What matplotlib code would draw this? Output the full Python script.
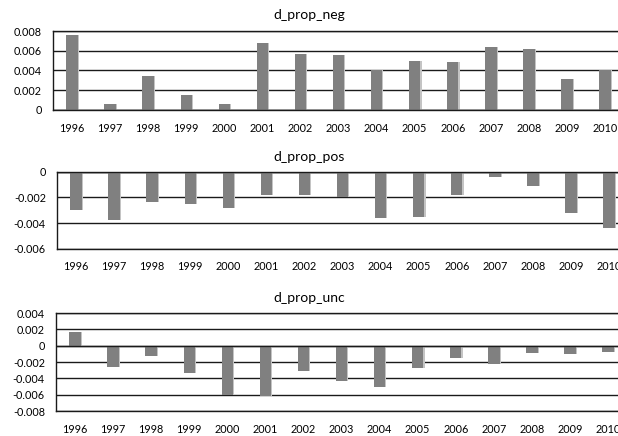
import matplotlib
matplotlib.use("Agg")
import matplotlib.pyplot as plt
import numpy as np

years = [str(y) for y in range(1996, 2011)]

d_prop_neg = [0.0076, 0.0006, 0.0034, 0.0015, 0.0006, 0.0068, 0.0057, 0.0056,
              0.0040, 0.0050, 0.0049, 0.0064, 0.0062, 0.0031, 0.0041]
d_prop_pos = [-0.0030, -0.0038, -0.0024, -0.0025, -0.0028, -0.0018, -0.0018, -0.0020,
              -0.0036, -0.0035, -0.0018, -0.0004, -0.0011, -0.0032, -0.0044]
d_prop_unc = [0.0017, -0.0026, -0.0013, -0.0033, -0.0060, -0.0062, -0.0031, -0.0043,
              -0.0051, -0.0027, -0.0015, -0.0023, -0.0009, -0.0010, -0.0008]

neg_ticks = [0, 0.002, 0.004, 0.006, 0.008]
pos_ticks = [-0.006, -0.004, -0.002, 0]
unc_ticks = [-0.008, -0.006, -0.004, -0.002, 0, 0.002, 0.004]

plt.rcParams["font.family"] = ["Lato", "DejaVu Sans"]

W, H = 618, 436
fig = plt.figure(figsize=(W / 100, H / 100), dpi=100)


def tick_text(v):
    if v == 0:
        return "0"
    return f"{v:.3f}"


def panel(left, top, bottom, values, ticks, title, title_y):
    width = 15 * 38.07
    ax = fig.add_axes([left / W, 1 - bottom / H, width / W, (bottom - top) / H])
    x = np.arange(len(years))
    vals = np.array(values)
    bw = 0.30
    # soft light edge to the right of each bar
    ax.bar(x + 0.03, vals, bw, color="#c4c4c4", zorder=2, linewidth=0)
    ax.bar(x, vals, bw, color="#808080", zorder=3, linewidth=0)
    ax.set_xlim(-0.5, 14.5)
    ax.set_ylim(ticks[0], ticks[-1])
    ax.set_yticks(ticks)
    ax.set_yticklabels([tick_text(t) for t in ticks])
    ax.set_xticks(x)
    ax.set_xticklabels(years)
    ax.grid(axis="y", color="#1a1a1a", linewidth=1.0, zorder=1)
    ax.set_axisbelow(True)
    ax.axhline(0, color="#1a1a1a", linewidth=1.0, zorder=4)
    for s in ax.spines.values():
        s.set_color("#1a1a1a")
        s.set_linewidth(1.0)
    ax.tick_params(axis="y", length=0, pad=8, labelsize=7.8, colors="black")
    ax.tick_params(axis="x", length=0, pad=9, labelsize=7.8, colors="black")
    fig.text(309 / W, 1 - title_y / H, title, ha="center", va="center",
             fontsize=10, color="black")
    return ax


panel(53, 31, 110, d_prop_neg, neg_ticks, "d_prop_neg", 15)
panel(57, 171.7, 248.7, d_prop_pos, pos_ticks, "d_prop_pos", 157)
panel(56, 313, 411, d_prop_unc, unc_ticks, "d_prop_unc", 298)

fig.savefig("out.png", dpi=100)
